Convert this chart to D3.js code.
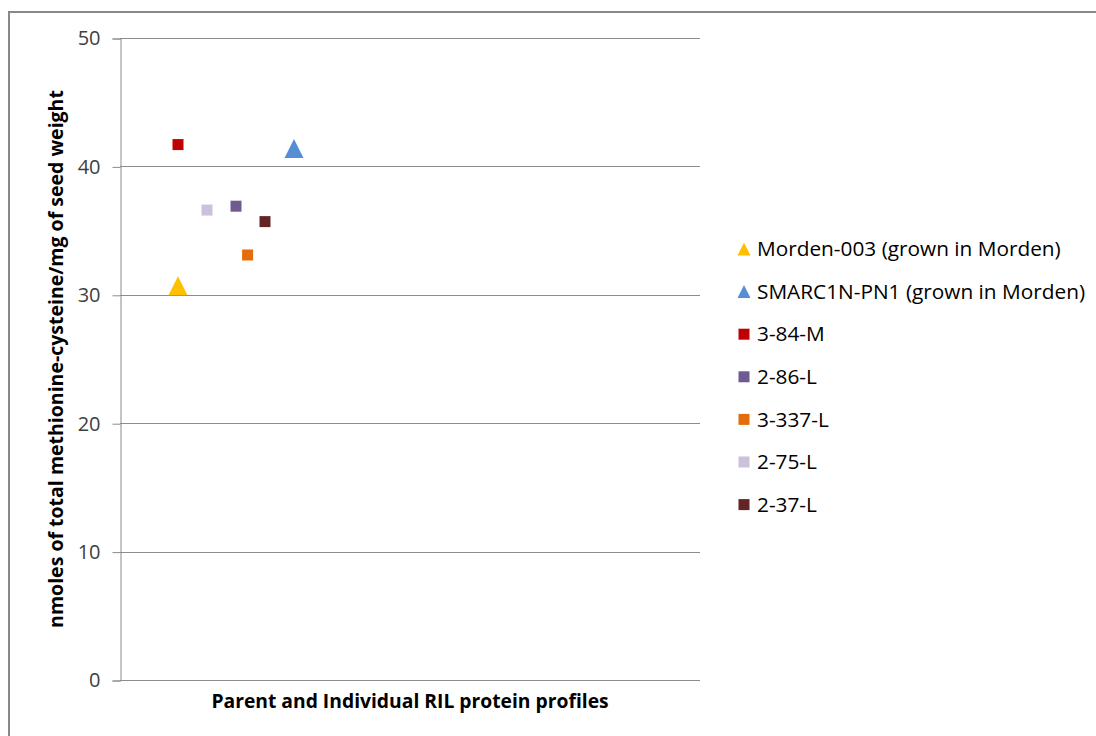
<!DOCTYPE html>
<html>
<head>
<meta charset="utf-8">
<script src="https://cdn.jsdelivr.net/npm/d3@7"></script>
<style>
  html, body { margin: 0; padding: 0; background: #fff; }
  svg { display: block; }
</style>
</head>
<body>
<svg id="chart" width="1096" height="736"></svg>
<script>
// Methionine-cysteine content of parents and RIL lines
const seriesNames = [
  "Morden-003 (grown in Morden)",
  "SMARC1N-PN1 (grown in Morden)",
  "3-84-M",
  "2-86-L",
  "3-337-L",
  "2-75-L",
  "2-37-L"
];
const seriesX = [2, 6, 2, 4, 4.4, 3, 5];
const seriesY = [30.7, 41.4, 41.7, 36.9, 33.1, 36.6, 35.7];
const seriesShape = ["triangle", "triangle", "square", "square", "square", "square", "square"];
const seriesColor = ["#FFC000", "#558ED5", "#C00000", "#705A92", "#E46C0A", "#CCC1DA", "#632423"];
const yTicks = [0, 10, 20, 30, 40, 50];

const yTitle = "nmoles of total methionine-cysteine/mg of seed weight";
const xTitle = "Parent and Individual RIL protein profiles";

const svg = d3.select("#chart");
const font = "'Open Sans', sans-serif";

// outer chart frame
svg.append("rect")
  .attr("x", 9).attr("y", 12)
  .attr("width", 1200).attr("height", 800)
  .attr("fill", "#fff")
  .attr("stroke", "#888").attr("stroke-width", 2);

const plot = { left: 120, right: 700, top: 38, bottom: 680 };

const x = d3.scaleLinear().domain([0, 20]).range([plot.left, plot.right]);
const y = d3.scaleLinear().domain([0, 50]).range([plot.bottom, plot.top]);

// horizontal gridlines
svg.append("g")
  .selectAll("line")
  .data(yTicks)
  .join("line")
  .attr("x1", plot.left).attr("x2", plot.right)
  .attr("y1", d => Math.round(y(d)) + 0.5).attr("y2", d => Math.round(y(d)) + 0.5)
  .attr("stroke", "#8c8c8c").attr("stroke-width", 1);

// y axis
const yAxis = svg.append("g")
  .attr("transform", `translate(${plot.left + 0.5},0.5)`)
  .call(d3.axisLeft(y).tickValues(yTicks).tickSize(8).tickPadding(12));
yAxis.select(".domain").attr("stroke", "#8c8c8c");
yAxis.selectAll(".tick line").attr("stroke", "#8c8c8c");
yAxis.selectAll(".tick text")
  .attr("fill", "#404040")
  .style("font-family", font)
  .style("font-size", "20px");

// markers
function trianglePath(s) {
  const h = s / 2;
  return `M0,${-h}L${h},${h}L${-h},${h}Z`;
}
function squarePath(s) {
  const h = s / 2;
  return `M${-h},${-h}H${h}V${h}H${-h}Z`;
}
const markerPath = (shape, s) => shape === "triangle" ? trianglePath(s) : squarePath(s);

svg.append("g")
  .selectAll("path")
  .data(seriesNames.map((n, i) => i))
  .join("path")
  .attr("transform", i => `translate(${x(seriesX[i])},${y(seriesY[i])})`)
  .attr("d", i => markerPath(seriesShape[i], seriesShape[i] === "triangle" ? 19 : 11))
  .attr("fill", i => seriesColor[i]);

// axis titles
svg.append("text")
  .attr("transform", `translate(63,359) rotate(-90)`)
  .attr("text-anchor", "middle")
  .style("font-family", font)
  .style("font-weight", "bold")
  .style("font-size", "19.5px")
  .attr("fill", "#000")
  .text(yTitle);

svg.append("text")
  .attr("x", 410).attr("y", 708)
  .attr("text-anchor", "middle")
  .style("font-family", font)
  .style("font-weight", "bold")
  .style("font-size", "19.3px")
  .attr("fill", "#000")
  .text(xTitle);

// legend
const legend = svg.append("g").attr("transform", "translate(744,249)");
const rows = legend.selectAll("g")
  .data(seriesNames.map((n, i) => i))
  .join("g")
  .attr("transform", i => `translate(0,${i * 42.6})`);
rows.append("path")
  .attr("d", i => markerPath(seriesShape[i], seriesShape[i] === "triangle" ? 13 : 11))
  .attr("fill", i => seriesColor[i]);
rows.append("text")
  .attr("x", 13).attr("y", 0)
  .attr("dy", "0.35em")
  .style("font-family", font)
  .style("font-size", "20.8px")
  .attr("fill", "#000")
  .text(i => seriesNames[i]);
</script>
</body>
</html>
